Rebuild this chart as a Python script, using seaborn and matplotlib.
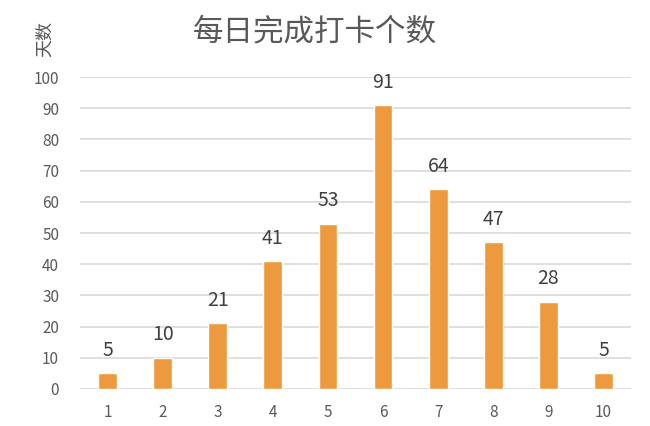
import matplotlib
matplotlib.use("Agg")
import matplotlib.pyplot as plt
import seaborn as sns
import pandas as pd

categories = ["1", "2", "3", "4", "5", "6", "7", "8", "9", "10"]
values = [5, 10, 21, 41, 53, 91, 64, 47, 28, 5]
yticks = list(range(0, 101, 10))

sns.set_theme(style="white")
plt.rcParams['font.family'] = ['Noto Sans CJK SC', 'DejaVu Sans']

df = pd.DataFrame({"x": categories, "y": values})

fig = plt.figure(figsize=(6.5, 4.26), dpi=100)
ax = fig.add_axes([0.123, 0.087, 0.848, 0.732])
sns.barplot(data=df, x="x", y="y", color="#ED9A3F", saturation=1, width=0.34, ax=ax, zorder=3)

ax.set_ylim(0, 100)
ax.set_xlim(-0.5, 9.5)
ax.set_yticks(yticks)
ax.yaxis.grid(True, color="#D9D9D9", linewidth=1.2, zorder=0)
ax.set_axisbelow(True)
for s in ax.spines.values():
    s.set_visible(False)
ax.tick_params(axis="both", length=0, labelsize=11, colors="#595959")
ax.tick_params(axis="x", pad=11)
ax.tick_params(axis="y", pad=15)
ax.set_xlabel("")
ax.set_ylabel("")

for i, v in enumerate(values):
    ax.annotate(str(v), (i, v), xytext=(0, 9), textcoords="offset points",
                ha="center", va="bottom", fontsize=14, color="#404040")

fig.text(0.485, 0.925, "每日完成打卡个数", ha="center", va="center", fontsize=22, color="#595959")
fig.text(0.069, 0.908, "天数", ha="center", va="center", rotation=90, fontsize=13, color="#595959")

fig.savefig("out.png", dpi=100)
